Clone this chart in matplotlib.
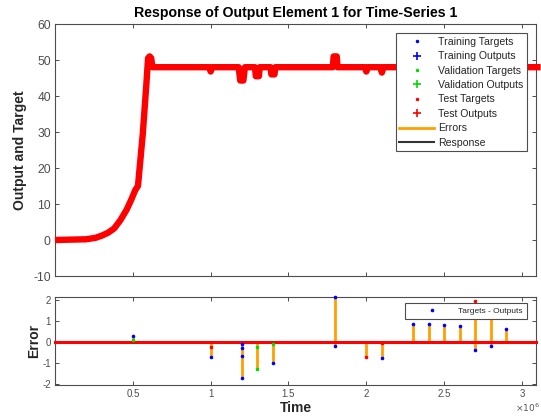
import matplotlib
matplotlib.use('Agg')
import matplotlib.pyplot as plt
from matplotlib.lines import Line2D
from matplotlib.ticker import FuncFormatter
import numpy as np

plt.rcParams['font.family'] = ['Liberation Sans', 'DejaVu Sans']
plt.rcParams['axes.unicode_minus'] = False

# response curve (time in samples, value)
resp_t = [0, 0.20e6, 0.26e6, 0.30e6, 0.34e6, 0.38e6, 0.42e6, 0.46e6, 0.49e6, 0.516e6,
          0.533e6, 0.564e6, 0.587e6,
          0.598e6, 0.608e6, 0.618e6, 0.626e6,
          0.99e6, 1.0e6, 1.01e6,
          1.18e6, 1.19e6, 1.21e6, 1.22e6,
          1.285e6, 1.29e6, 1.31e6, 1.315e6,
          1.385e6, 1.39e6, 1.41e6, 1.415e6,
          1.785e6, 1.79e6, 1.81e6, 1.815e6,
          1.99e6, 2.0e6, 2.01e6,
          2.09e6, 2.1e6, 2.11e6,
          3.12e6]
resp_v = [0, 0.2, 0.6, 1.2, 2.0, 3.2, 5.5, 8.4, 11.2, 13.9,
          15.0, 29.5, 43.3,
          50.5, 51.0, 50.5, 48.0,
          48.0, 46.8, 48.0,
          48.0, 44.3, 44.3, 48.0,
          48.0, 45.5, 45.5, 48.0,
          48.0, 46.0, 46.0, 48.0,
          48.0, 51.0, 51.0, 48.0,
          48.0, 46.8, 48.0,
          48.0, 46.5, 48.0,
          48.0]

# errors
train_t = [0.5e6, 1.0e6, 1.2e6, 1.2e6, 1.2e6, 1.2e6, 1.4e6, 1.8e6, 1.8e6, 2.1e6,
           2.3e6, 2.4e6, 2.5e6, 2.6e6, 2.7e6, 2.8e6, 2.9e6]
train_e = [0.24, -0.74, -0.13, -0.31, -0.69, -1.72, -1.02, 2.12, -0.19, -0.77,
           0.84, 0.82, 0.79, 0.75, -0.38, -0.23, 0.61]
val_t = [0.5e6, 1.3e6, 1.3e6, 1.4e6]
val_e = [0.08, -0.24, -1.29, -0.13]
test_t = [1.0e6, 2.0e6, 2.1e6, 2.7e6, 2.8e6]
test_e = [-0.27, -0.72, -0.08, 1.95, 1.5]

orange = '#ffa000'
axcol = '#262626'
spcol = '#4d4d4d'

fig = plt.figure(figsize=(5.41, 4.19), dpi=100)
ax1 = fig.add_axes([55/541, 1-276/419, 481/541, 252/419])
ax2 = fig.add_axes([55/541, 1-385/419, 481/541, 88/419])

ax1.plot(resp_t, resp_v, color='red', lw=4.6, solid_joinstyle='round',
         solid_capstyle='butt', clip_on=False, zorder=3)
ax1.set_xlim(0, 3.09e6)
ax1.set_ylim(-10, 60)
ax1.set_yticks(range(-10, 61, 10))
ax1.set_xticks([0.5e6, 1e6, 1.5e6, 2e6, 2.5e6, 3e6])
ax1.set_xticklabels([])
ax1.set_title('Response of Output Element 1 for Time-Series 1', fontsize=10.2,
              fontweight='bold', color='black', pad=5)
ax1.set_ylabel('Output and Target', fontsize=10, fontweight='bold', color=axcol)
ax1.yaxis.set_label_coords(-0.058, 0.5)

handles = [
    Line2D([], [], ls='none', marker='.', ms=3, color='blue'),
    Line2D([], [], ls='none', marker='+', ms=6, mew=1.2, color='blue'),
    Line2D([], [], ls='none', marker='.', ms=3, color='#00dd00'),
    Line2D([], [], ls='none', marker='+', ms=6, mew=1.2, color='#00dd00'),
    Line2D([], [], ls='none', marker='.', ms=3, color='red'),
    Line2D([], [], ls='none', marker='+', ms=6, mew=1.2, color='red'),
    Line2D([], [], color=orange, lw=2),
    Line2D([], [], color='#333333', lw=1.5),
]
labels = ['Training Targets', 'Training Outputs', 'Validation Targets', 'Validation Outputs',
          'Test Targets', 'Test Outputs', 'Errors', 'Response']
leg = ax1.legend(handles, labels, loc='upper right', bbox_to_anchor=(0.981, 0.964),
                 fontsize=7.6, handlelength=3.3, handletextpad=0.35, labelspacing=0.42,
                 borderpad=0.35, borderaxespad=0, fancybox=False, framealpha=1)
leg.get_frame().set_edgecolor(spcol)
leg.get_frame().set_linewidth(0.8)
for t in leg.get_texts():
    t.set_color(axcol)

# stems
stem_t = sorted(set(train_t + val_t + test_t))
all_t = train_t + val_t + test_t
all_e = train_e + val_e + test_e
for st in stem_t:
    vals = [e for tt, e in zip(all_t, all_e) if tt == st] + [0]
    ax2.vlines(st, min(vals), max(vals), color=orange, lw=2, zorder=2)
ax2.plot([0, 3.09e6], [0, 0], color='red', lw=2.2, zorder=3, clip_on=False)
ax2.plot(train_t, train_e, ls='none', marker='.', ms=3.2, color='blue', zorder=4,
         clip_on=False, label='Targets - Outputs')
ax2.plot(val_t, val_e, ls='none', marker='.', ms=3.2, color='#00dd00', zorder=4)
ax2.plot(test_t, test_e, ls='none', marker='.', ms=3.2, color='red', zorder=4)
ax2.set_xlim(0, 3.09e6)
ax2.set_ylim(-2.07, 2.12)
ax2.set_yticks([-2, -1, 0, 1, 2])
ax2.set_xticks([0.5e6, 1e6, 1.5e6, 2e6, 2.5e6, 3e6])
ax2.xaxis.set_major_formatter(FuncFormatter(lambda v, p: '%g' % (v / 1e6)))
ax2.text(1.008, -0.19, r'$\times10^{6}$', transform=ax2.transAxes, ha='right', va='top',
         fontsize=6.5, color='#555555')
ax2.set_ylabel('Error', fontsize=10, fontweight='bold', color=axcol)
ax2.yaxis.set_label_coords(-0.029, 0.5)
ax2.set_xlabel('Time', fontsize=10, fontweight='bold', color=axcol, labelpad=1)
leg2 = ax2.legend(loc='upper right', bbox_to_anchor=(0.981, 0.93), fontsize=6,
                  handlelength=5.5, handletextpad=0.4, borderpad=0.5, borderaxespad=0,
                  fancybox=False, framealpha=1)
leg2.get_frame().set_edgecolor(spcol)
leg2.get_frame().set_linewidth(0.8)
for t in leg2.get_texts():
    t.set_color(axcol)

for ax, fs in ((ax1, 8.7), (ax2, 7)):
    ax.tick_params(direction='in', top=True, right=True, length=3, width=0.7,
                   color=spcol, labelcolor='#4d4d4d', labelsize=fs, pad=3)
    for s in ax.spines.values():
        s.set_color(spcol)
        s.set_linewidth(0.8)

fig.savefig('out.png', dpi=100)
